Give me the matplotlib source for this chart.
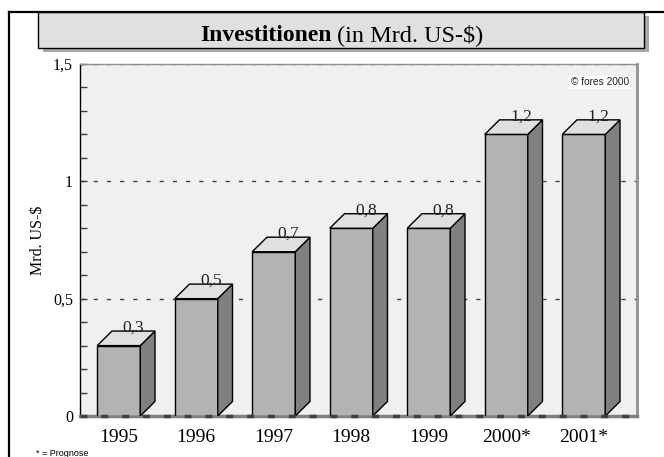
import numpy as np
import matplotlib.pyplot as plt
from matplotlib.patches import Polygon, Rectangle
from matplotlib.lines import Line2D

years = ["1995", "1996", "1997", "1998", "1999", "2000*", "2001*"]
values = [0.3, 0.5, 0.7, 0.8, 0.8, 1.2, 1.2]
value_labels = ["0,3", "0,5", "0,7", "0,8", "0,8", "1,2", "1,2"]
yticks = [0, 0.5, 1, 1.5]
ytick_labels = ["0", "0,5", "1", "1,5"]

W, H = 664, 457
serif = "Liberation Serif"
sans = "Liberation Sans"

fig = plt.figure(figsize=(W / 100, H / 100), dpi=100)
fig.patch.set_facecolor("white")


def fx(px):
    return px / W


def fy(py):
    return 1 - py / H


# outer frame (left and top only)
fig.add_artist(Line2D([fx(9), fx(9)], [fy(12), fy(H)], color="black", lw=1.6))
fig.add_artist(Line2D([fx(9), fx(W)], [fy(12), fy(12)], color="black", lw=1.6))

# title box with shadow
fig.add_artist(Rectangle((fx(43), fy(52)), fx(606), 36 / H, facecolor="#a8a8a8",
                         edgecolor="none", transform=fig.transFigure))
fig.add_artist(Rectangle((fx(38), fy(48)), fx(606), 36 / H, facecolor="#e0e0e0",
                         edgecolor="black", lw=1, transform=fig.transFigure))
fig.text(fx(332), fy(41), "Investitionen", ha="right", va="baseline",
         fontsize=17, fontweight="bold", family=serif)
fig.text(fx(337), fy(41), r"(in Mrd. US-\$)", ha="left", va="baseline",
         fontsize=17.5, family=serif)

# plot area
ax = fig.add_axes([fx(80), fy(416), fx(557), 352 / H])
ax.set_facecolor("#f0f0f0")
ax.set_ylim(0, 1.5)
ax.set_xlim(-0.5, 6.687)

x = np.arange(len(years))
bw = 0.555
dx = 0.19
dy = 0.062

for g in [0.5, 1.0, 1.5]:
    ax.axhline(g, color="#404040", lw=1, ls=(0, (3, 6.5)), zorder=1)

ax.bar(x, values, width=bw, color="#b3b3b3", edgecolor="black", lw=1, zorder=3)
for xi, v, lab in zip(x, values, value_labels):
    l, r = xi - bw / 2, xi + bw / 2
    top = Polygon([(l, v), (l + dx, v + dy), (r + dx, v + dy), (r, v)],
                  closed=True, facecolor="#e0e0e0", edgecolor="black", lw=1, zorder=3)
    side = Polygon([(r, 0), (r, v), (r + dx, v + dy), (r + dx, dy)],
                   closed=True, facecolor="#808080", edgecolor="black", lw=1, zorder=3)
    ax.add_patch(side)
    ax.add_patch(top)
    ax.text(xi + dx, v + dy - 0.003, lab, ha="center", va="baseline",
            fontsize=12.5, family=serif, color="#202020", zorder=4)

ax.set_yticks(yticks)
ax.set_yticklabels(ytick_labels, family=serif, fontsize=11.5)
ax.set_yticks(np.arange(0, 1.51, 0.1), minor=True)
ax.tick_params(axis="y", which="both", direction="in", length=5, width=1,
               color="#404040", pad=5)
ax.set_xticks(x)
ax.set_xticklabels(years, family=serif, fontsize=14)
ax.tick_params(axis="x", length=0, pad=9)
ax.set_ylabel(r"Mrd. US-\$", family=serif, fontsize=11.5)
ax.yaxis.set_label_coords(-34 / 557, 0.5)

ax.spines["left"].set_color("black")
ax.spines["left"].set_linewidth(1)
ax.spines["top"].set_color("#909090")
ax.spines["top"].set_linewidth(1)
ax.spines["right"].set_color("#909090")
ax.spines["right"].set_linewidth(2)
ax.spines["bottom"].set_color("#808080")
ax.spines["bottom"].set_linewidth(2.5)
ax.axhline(0, color="#404040", lw=2.5, ls=(0, (2, 4)), zorder=5, clip_on=False)

ax.text(0.985, 0.962, "© fores 2000", transform=ax.transAxes, ha="right", va="top",
        fontsize=7.3, family=sans, color="#202020", zorder=6,
        bbox=dict(facecolor="white", edgecolor="none", pad=1))

fig.text(fx(36), fy(449), "* = Prognose", ha="left", va="top", fontsize=6.5,
         family=sans)

fig.savefig("out.png", dpi=100)
